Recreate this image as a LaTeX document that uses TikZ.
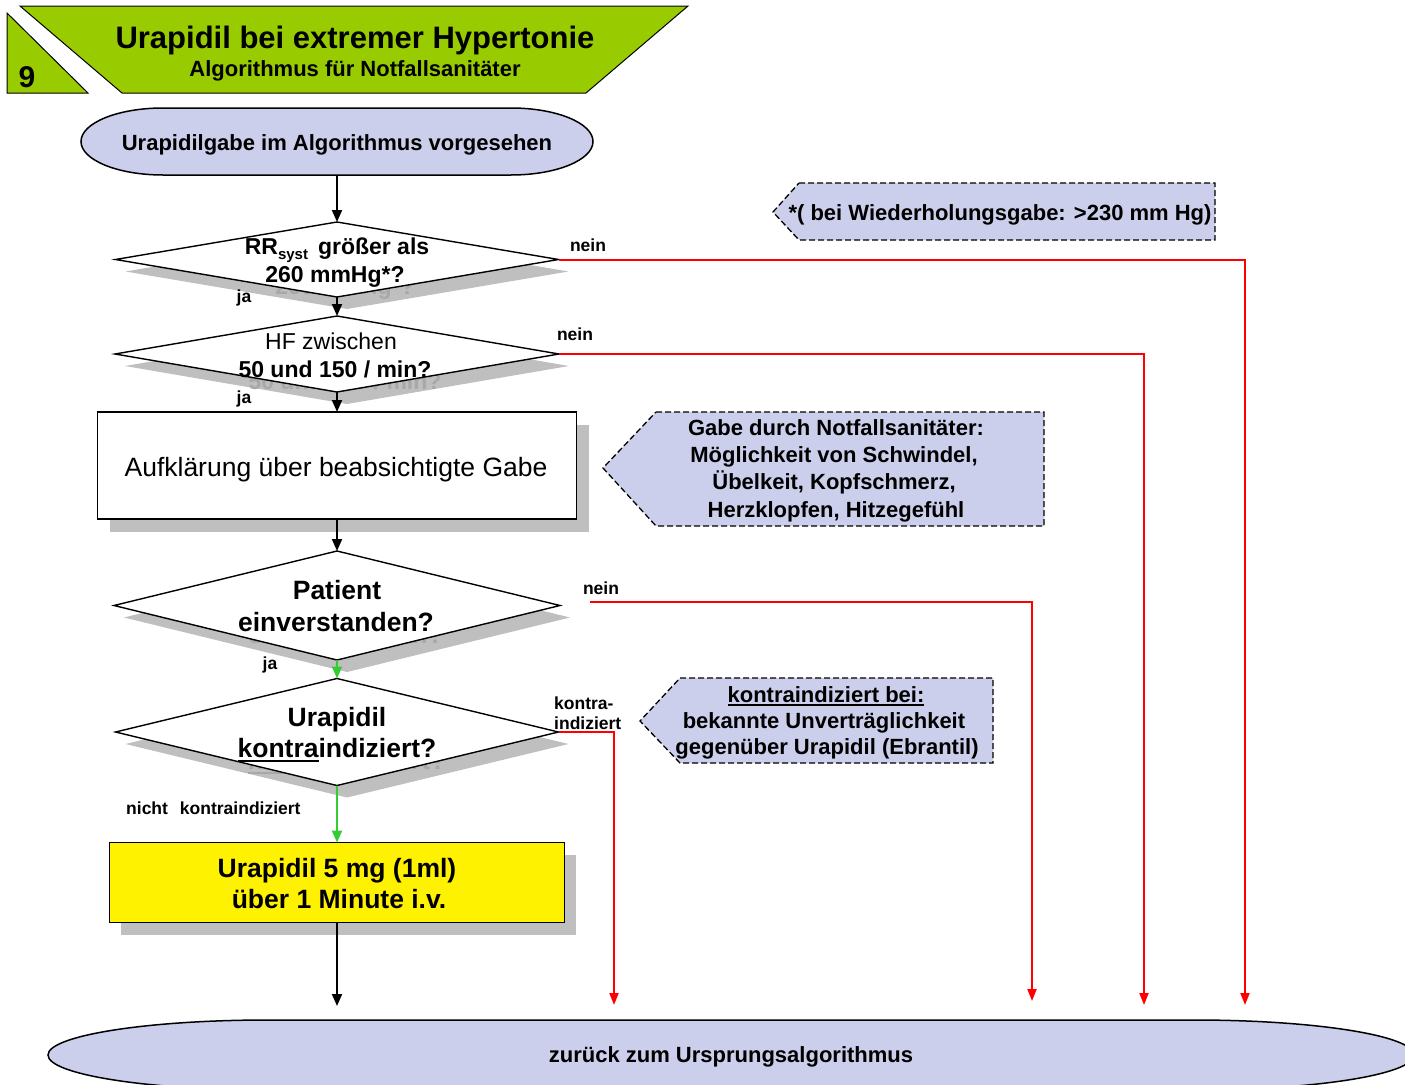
\documentclass[tikz,border=0pt]{standalone}
\usepackage{fontspec}
\setmainfont{Liberation Sans}
\usetikzlibrary{shapes.geometric,arrows.meta,calc}
\pgfdeclarelayer{shade}
\pgfsetlayers{shade,main}

\definecolor{headgreen}{RGB}{153,204,0}
\definecolor{lav}{RGB}{204,207,235}
\definecolor{shadowgray}{RGB}{191,191,191}
\definecolor{ghostgray}{RGB}{168,168,168}
\definecolor{okgreen}{RGB}{51,204,51}
\definecolor{nored}{RGB}{255,0,0}

\newcommand\fsz[2]{\fontsize{#1}{#2}\selectfont}
% underline with given depth and thickness
\newcommand\ulinetxt[3]{\setbox0\hbox{#3}\rlap{\rule[-#1]{\wd0}{#2}}\box0}

\begin{document}
\begin{tikzpicture}[x=1pt,y=1pt,
  dec/.style={diamond, draw=black, line width=1.4pt, fill=white, inner sep=0pt, outer sep=0pt},
  proc/.style={rectangle, draw=black, line width=1.5pt, inner sep=0pt, outer sep=0pt},
  flow/.style={draw=black, line width=1.9pt, -{Triangle[length=12pt,width=10pt]}},
  yesflow/.style={draw=okgreen, line width=1.9pt, -{Triangle[length=12pt,width=10pt]}},
  noflow/.style={draw=nored, line width=2pt, -{Triangle[length=12pt,width=9pt]}},
  lbl/.style={font=\bfseries\fsz{17.5}{20}, inner sep=0pt, anchor=base},
  lblw/.style={font=\bfseries\fsz{17.5}{20}, inner sep=0pt, anchor=base west},
  txt/.style={font=\bfseries\fsz{23}{28}, inner sep=0pt, anchor=base},
  bigtxt/.style={font=\bfseries\fsz{26.5}{32}, inner sep=0pt, anchor=base},
  notetxt/.style={font=\bfseries\fsz{22}{27}, inner sep=0pt, anchor=base},
  ghost/.style={text=ghostgray},
  note/.style={fill=lav, draw=black, line width=1.3pt, dash pattern=on 6pt off 3pt},
  term/.style={fill=lav, draw=black, line width=1.5pt},
  head/.style={fill=headgreen, draw=black, line width=1pt}]

\useasboundingbox (0,0) rectangle (1405,-1084);
\clip (0,0) rectangle (1405,-1084);

% ---------- header ----------
\draw[head] (20,-6) -- (688,-6) -- (586,-93) -- (122,-93) -- cycle;
\draw[head] (7,-13) -- (88,-93) -- (7,-93) -- cycle;
\node[font=\bfseries\fsz{31}{36}, inner sep=0pt, anchor=base] (title) at (355,-48) {Urapidil bei extremer Hypertonie};
\node[font=\bfseries\fsz{22}{26}, inner sep=0pt, anchor=base] (subtitle) at (355,-76) {Algorithmus für Notfallsanitäter};
\node[font=\bfseries\fsz{30}{34}, inner sep=0pt, anchor=base] (num) at (27,-87) {9};

% ---------- start terminator ----------
\draw[term] (163,-108) -- (511,-108)
  arc[start angle=90,end angle=-90,x radius=82pt,y radius=33.5pt]
  -- (163,-175)
  arc[start angle=270,end angle=90,x radius=82pt,y radius=33.5pt] -- cycle;
\node[minimum width=510pt, minimum height=67pt, inner sep=0pt] (start) at (337,-141.5) {};
\node[notetxt] (startt) at (337,-150) {Urapidilgabe im Algorithmus vorgesehen};

% ---------- decisions and steps ----------
\node[dec, minimum width=443pt, minimum height=75pt] (d1) at (337,-259.5) {};
\node[txt] (d1a) at (337,-254) {RR\raisebox{-5pt}{\fsz{15}{15}syst}\hspace{10pt}größer als};
\node[txt] (d1b) at (335,-282) {260 mmHg*?};

\node[dec, minimum width=444pt, minimum height=76pt] (d2) at (337,-354) {};
\node[txt, font=\mdseries\fsz{23}{28}] (d2a) at (331,-349) {HF zwischen};
\node[txt] (d2b) at (335,-377) {50 und 150 / min?};

\node[proc, fill=white, minimum width=479pt, minimum height=107pt] (aufk) at (337,-465.5) {};
\node[font=\fsz{26.5}{32}, inner sep=0pt, anchor=base] (aufkt) at (336,-476) {Aufklärung über beabsichtigte Gabe};

\node[dec, minimum width=446pt, minimum height=109pt] (d3) at (337,-605.5) {};
\node[bigtxt] (d3a) at (337,-599) {Patient};
\node[bigtxt] (d3b) at (336,-631) {einverstanden?};

\node[dec, minimum width=443pt, minimum height=107pt] (d4) at (337,-732) {};
\node[bigtxt] (d4a) at (337,-726) {Urapidil};
\node[bigtxt] (d4b) at (337,-757) {\ulinetxt{5pt}{2.2pt}{kontra}indiziert?};

\node[proc, fill=yellow, minimum width=455pt, minimum height=80pt] (dose) at (337,-882.5) {};
\node[bigtxt] (dosea) at (337,-877) {Urapidil 5 mg (1ml)};
\node[bigtxt] (doseb) at (339,-908) {über 1 Minute i.v.};

% ---------- shadows ----------
\begin{pgfonlayer}{shade}
  \foreach \d in {d1,d2,d3,d4}{
    \fill[shadowgray] ([shift={(10,-12)}]\d.north) -- ([shift={(10,-12)}]\d.east)
      -- ([shift={(10,-12)}]\d.south) -- ([shift={(10,-12)}]\d.west) -- cycle;
  }
  \fill[shadowgray] ([shift={(12,-13)}]aufk.north west) rectangle ([shift={(12,-13)}]aufk.south east);
  \fill[shadowgray] ([shift={(11,-12)}]dose.north west) rectangle ([shift={(11,-12)}]dose.south east);
  \node[txt, ghost] (g1) at (345,-294) {260 mmHg*?};
  \node[txt, ghost] (g2) at (345,-389) {50 und 150 / min?};
  \node[bigtxt, ghost] (g3) at (346,-643) {einverstanden?};
  \node[bigtxt, ghost] (g4) at (347,-769) {\ulinetxt{5pt}{2.2pt}{kontra}indiziert?};
\end{pgfonlayer}

% ---------- end terminator ----------
\draw[term] (268,-1020) -- (1194,-1020)
  arc[start angle=90,end angle=-90,x radius=220pt,y radius=35pt]
  -- (268,-1090)
  arc[start angle=270,end angle=90,x radius=220pt,y radius=35pt] -- cycle;
\node[minimum width=1366pt, minimum height=70pt, inner sep=0pt] (back) at (731,-1055) {};
\node[notetxt] (backt) at (731,-1062) {zurück zum Ursprungsalgorithmus};

% ---------- notes ----------
\draw[note] (799,-183) -- (1215,-183) -- (1215,-240) -- (799,-240) -- (773,-212) -- cycle;
\node[notetxt] (n1) at (1000,-220) {*( bei Wiederholungsgabe: >230 mm Hg)};

\draw[note] (656,-412) -- (1044,-412) -- (1044,-526) -- (656,-526) -- (603,-468) -- cycle;
\node[notetxt] (n2a) at (836,-435) {Gabe durch Notfallsanitäter:};
\node[notetxt] (n2b) at (834,-462) {Möglichkeit von Schwindel,};
\node[notetxt] (n2c) at (834,-489) {Übelkeit, Kopfschmerz,};
\node[notetxt] (n2d) at (836,-517) {Herzklopfen, Hitzegefühl};

\draw[note] (680,-678) -- (993,-678) -- (993,-763) -- (680,-763) -- (640,-721) -- cycle;
\node[notetxt] (n3a) at (826,-702) {\ulinetxt{4pt}{1.6pt}{kontraindiziert bei:}};
\node[notetxt] (n3b) at (824,-728) {bekannte Unverträglichkeit};
\node[notetxt] (n3c) at (827,-754) {gegenüber Urapidil (Ebrantil)};

% ---------- main flow ----------
\draw[flow] (start.south) -- (d1.north);
\draw[flow] (d1.south) -- (d2.north);
\draw[flow] (d2.south) -- (aufk.north);
\draw[flow] (aufk.south) -- (d3.north);
\draw[yesflow] (d3.south) -- (d4.north);
\draw[yesflow] (d4.south) -- (dose.north);
\coordinate (endA) at (337,-1006);
\draw[flow] (dose.south) -- (endA);

% ---------- exits ----------
\coordinate (r1) at (1245,-1005);
\coordinate (r2) at (1144,-1005);
\coordinate (r3s) at (590,-602);
\coordinate (r3) at (1032,-1001);
\coordinate (r4) at (614,-1005);
\draw[noflow] (d1.east) -| (r1);
\draw[noflow] (d2.east) -| (r2);
\draw[noflow] (r3s) -| (r3);
\draw[noflow] (d4.east) -| (r4);

% ---------- branch labels ----------
\node[lbl] (l1n) at (588,-251) {nein};
\node[lbl] (l1j) at (244,-302) {ja};
\node[lbl] (l2n) at (575,-340) {nein};
\node[lbl] (l2j) at (244,-403) {ja};
\node[lbl] (l3n) at (601,-594) {nein};
\node[lbl] (l3j) at (270,-669) {ja};
\node[lblw] (l4k1) at (554,-709) {kontra-};
\node[lblw] (l4k2) at (554,-729) {indiziert};
\node[lblw] (l4n) at (126,-814) {nicht\hspace{12pt}kontraindiziert};
\end{tikzpicture}
\end{document}
